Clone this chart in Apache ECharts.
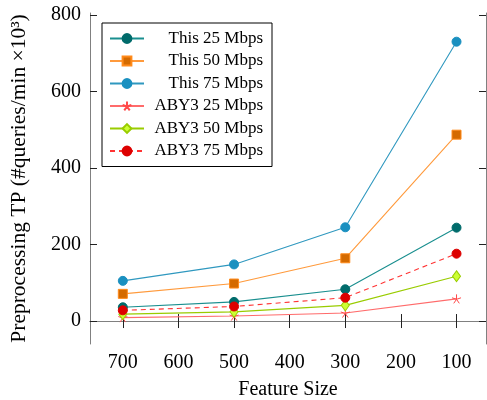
<!DOCTYPE html>
<html><head><meta charset="utf-8">
<script src="https://cdn.jsdelivr.net/npm/echarts@6/dist/echarts.min.js"></script>
<style>html,body{margin:0;padding:0;background:#fff}#c{width:487px;height:400px}</style>
</head><body><div id="c"></div><script>
const featureSizes = [700, 500, 300, 100];
const xTicks = [700, 600, 500, 400, 300, 200, 100];
const yTicks = [0, 200, 400, 600, 800];
const seriesNames = ['This 25 Mbps', 'This 50 Mbps', 'This 75 Mbps', 'ABY3 25 Mbps', 'ABY3 50 Mbps', 'ABY3 75 Mbps'];
const this25 = [36, 50, 83, 244];
const this50 = [71, 98, 164, 487];
const this75 = [105, 148, 245, 730];
const aby25 = [9, 13, 21, 58];
const aby50 = [18, 24, 41, 117];
const aby75 = [28, 38, 61, 176];

const FONT = 'Liberation Serif';
const STAR = 'path://M0,-10 L0,0 M9.51,-3.09 L0,0 M5.88,8.09 L0,0 M-5.88,8.09 L0,0 M-9.51,-3.09 L0,0';
function pairs(vals){ return featureSizes.map((x,i)=>[x, vals[i]]); }

const styles = [
  {line:'#1a8f8f', fill:'#006b6b', border:'#006b6b', symbol:'circle', size:9, type:'solid'},
  {line:'#ff9a3c', fill:'#d46a00', border:'#ff8a1a', symbol:'rect', size:9, type:'solid'},
  {line:'#2f98bf', fill:'#1a90c0', border:'#1a90c0', symbol:'circle', size:9, type:'solid'},
  {line:'#ff6b6b', fill:'#ff4a4a', border:'#ff4a4a', symbol:STAR, size:9, type:'solid'},
  {line:'#99cc00', fill:'#ccff33', border:'#99cc00', symbol:'diamond', size:[8,11], type:'solid'},
  {line:'#ff3333', fill:'#dd0000', border:'#dd0000', symbol:'circle', size:9, type:[5,4]}
];
const allData = [this25, this50, this75, aby25, aby50, aby75];

const chart = echarts.init(document.getElementById('c'), null, {renderer:'canvas'});
const axisLineStyle = {color:'#808080', width:1};
const tickStyle = {color:'#222', width:1};
const option = {
  animation:false,
  backgroundColor:'#fff',
  grid:{left:90, right:1, top:13, bottom:56, containLabel:false, outerBoundsMode:'none'},
  legend:{
    orient:'vertical', left:102, top:23,
    padding:[7, 9, 7, 7],
    itemWidth:34, itemHeight:11, itemGap:5.5, itemTextGap:5,
    borderColor:'#000', borderWidth:1, backgroundColor:'#fff',
    data: seriesNames,
    formatter: '{n|{name}}',
    textStyle:{fontFamily:FONT, fontSize:17, color:'#000',
      rich:{n:{width:114, align:'right', fontFamily:FONT, fontSize:17, lineHeight:17, color:'#000'}}}
  },
  xAxis:[{
    type:'value', min:47, max:759, inverse:true, position:'bottom',
    name:'Feature Size', nameLocation:'middle', nameGap:36,
    nameTextStyle:{fontFamily:FONT, fontSize:20, color:'#000'},
    axisLine:{show:true, lineStyle:axisLineStyle},
    axisTick:{show:true, inside:true, length:7, lineStyle:tickStyle, customValues:xTicks},
    axisLabel:{show:true, margin:9, fontFamily:FONT, fontSize:20, color:'#000', customValues:xTicks},
    splitLine:{show:false}
  },{
    type:'value', min:47, max:759, inverse:true, position:'top',
    axisLine:{show:true, lineStyle:axisLineStyle},
    axisTick:{show:true, inside:true, length:7, lineStyle:tickStyle, customValues:xTicks},
    axisLabel:{show:false},
    splitLine:{show:false}
  }],
  yAxis:[{
    type:'value', min:-60, max:805, position:'left',
    name:'Preprocessing TP (#queries/min ×10³)', nameLocation:'middle', nameGap:60,
    nameTextStyle:{fontFamily:FONT, fontSize:21.5, color:'#000'},
    axisLine:{show:true, lineStyle:axisLineStyle},
    axisTick:{show:true, inside:true, length:7, lineStyle:tickStyle, customValues:yTicks},
    axisLabel:{show:true, margin:9, fontFamily:FONT, fontSize:20, color:'#000', customValues:yTicks},
    splitLine:{show:false}
  },{
    type:'value', min:-60, max:805, position:'right',
    axisLine:{show:true, lineStyle:axisLineStyle},
    axisTick:{show:true, inside:true, length:7, lineStyle:tickStyle, customValues:yTicks},
    axisLabel:{show:false},
    splitLine:{show:false}
  }],
  series: seriesNames.map((name,i)=>({
    name, type:'line', xAxisIndex:0, yAxisIndex:0,
    data: pairs(allData[i]),
    symbol: styles[i].symbol, symbolSize: styles[i].size,
    showAllSymbol:true,
    lineStyle:{color:styles[i].line, width:1.1, type:styles[i].type},
    itemStyle:{color:styles[i].fill, borderColor:styles[i].border, borderWidth:1},
    emphasis:{disabled:true}
  }))
};
chart.setOption(option);
</script></body></html>
